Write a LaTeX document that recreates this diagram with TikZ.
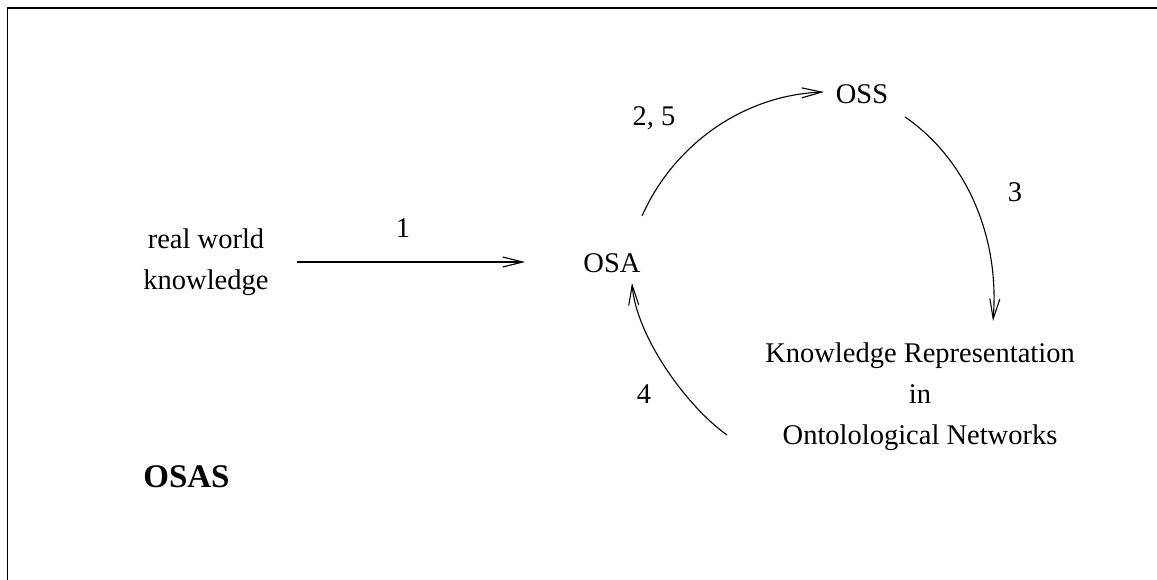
\documentclass[tikz,border=0pt]{standalone}
\usepackage{fontspec}
\setmainfont{Liberation Serif}
\usetikzlibrary{arrows.meta}
\begin{document}
\begin{tikzpicture}[x=1pt,y=-1pt,
  lbl/.style={font=\fontsize{28.5}{41}\selectfont, align=center, inner sep=0pt},
  flow/.style={line width=1.1pt, -{Straight Barb[length=20pt,width=10pt,line width=1.1pt]}},
  frame/.style={line width=1.8pt}]
  \useasboundingbox (0,0) rectangle (1157,580);
  % frame: top and left edges
  \draw[frame] (7.5,580) -- (7.5,8) -- (1157,8);

  % texts
  \node[lbl] (rwk) at (206,262) {real world\\knowledge};
  \node[lbl] (osa) at (612,263) {OSA};
  \node[lbl] (oss) at (862,94) {OSS};
  \node[lbl] (krn) at (920,397) {Knowledge Representation\\in\\Ontolological Networks};
  \node[lbl, font=\fontsize{33}{38}\selectfont\bfseries] (osas) at (186.5,477) {OSAS};

  % step numbers
  \node[lbl] (n1) at (403,228) {1};
  \node[lbl] (n25) at (654,118) {2, 5};
  \node[lbl] (n3) at (1015,192) {3};
  \node[lbl] (n4) at (644,394) {4};

  % connector end points
  \coordinate (a1s) at (297,262);
  \coordinate (a1e) at (525,262);
  \coordinate (a2s) at (642,216);
  \coordinate (a2e) at (824,92);
  \coordinate (a3s) at (905,117);
  \coordinate (a3e) at (993,321);
  \coordinate (a4s) at (727,435);
  \coordinate (a4e) at (632,283);

  % connectors
  \draw[flow] (a1s) -- (a1e);
  \draw[flow] (a2s) .. controls (674,144) and (744,95) .. (a2e);
  \draw[flow] (a3s) .. controls (965,158) and (1000,235) .. (a3e);
  \draw[flow] (a4s) .. controls (685,405) and (636,335) .. (a4e);
\end{tikzpicture}
\end{document}
